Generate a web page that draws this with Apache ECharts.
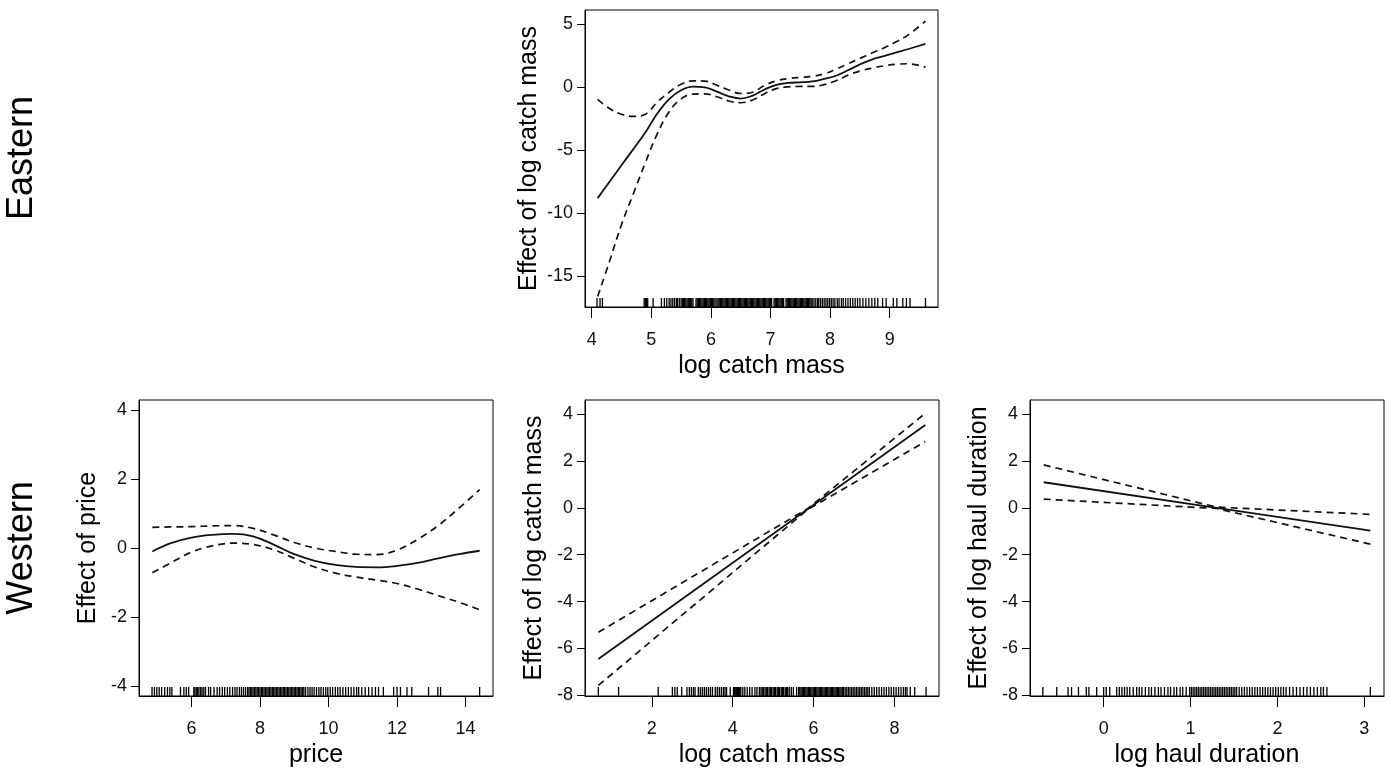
<!DOCTYPE html>
<html><head><meta charset="utf-8">
<script src="https://cdn.jsdelivr.net/npm/echarts@6/dist/echarts.min.js"></script>
<style>html,body{margin:0;padding:0;background:#fff}#c{width:1390px;height:770px}</style>
</head><body><div id="c"></div>
<script>
const FONT = '"Liberation Sans", Arial, Helvetica, sans-serif';

// ---- Eastern: log catch mass ----
const eastX = [4.1, 4.3, 4.5, 4.7, 4.9, 5.1, 5.3, 5.5, 5.7, 5.9, 6.1, 6.3, 6.5, 6.7, 6.9, 7.1, 7.3, 7.5, 7.7, 7.9, 8.1, 8.3, 8.5, 8.7, 8.9, 9.1, 9.3, 9.6];
const eastFit = [-8.8, -7.5, -6.2, -4.9, -3.6, -2.1, -0.95, -0.25, 0.03, -0.02, -0.36, -0.73, -0.91, -0.67, -0.19, 0.18, 0.33, 0.38, 0.45, 0.65, 0.9, 1.33, 1.8, 2.18, 2.45, 2.73, 3.0, 3.43];
const eastUpper = [-0.98, -1.7, -2.15, -2.32, -2.15, -1.2, -0.4, 0.22, 0.5, 0.48, 0.15, -0.23, -0.51, -0.41, 0.13, 0.5, 0.68, 0.77, 0.85, 1.05, 1.42, 1.85, 2.27, 2.7, 3.1, 3.57, 4.1, 5.22];
const eastLower = [-16.6, -13.8, -10.9, -8.44, -6.0, -3.7, -1.95, -0.93, -0.56, -0.54, -0.77, -1.1, -1.24, -1.02, -0.52, -0.12, 0.02, 0.05, 0.05, 0.2, 0.5, 0.95, 1.27, 1.5, 1.68, 1.8, 1.85, 1.58];
const eastRug = [4.09, 4.14, 4.18, 4.88, 4.9, 4.92, 4.94, 5.03, 5.17, 5.22, 5.26, 5.3, 5.33, 5.36, 5.39, 5.42, 5.44, 5.47, 5.5, 5.52, 5.54, 5.56, 5.58, 5.6, 5.62, 5.64, 5.66, 5.68, 5.7, 5.75, 5.77, 5.79, 5.81, 5.83, 5.85, 5.87, 5.89, 5.91, 5.93, 5.95, 5.97, 5.99, 6.01, 6.03, 6.05, 6.07, 6.1, 6.12, 6.14, 6.16, 6.18, 6.2, 6.22, 6.24, 6.26, 6.28, 6.3, 6.32, 6.34, 6.36, 6.38, 6.4, 6.42, 6.44, 6.46, 6.48, 6.5, 6.52, 6.54, 6.56, 6.58, 6.6, 6.62, 6.64, 6.66, 6.68, 6.7, 6.72, 6.74, 6.76, 6.78, 6.8, 6.82, 6.84, 6.86, 6.88, 6.9, 6.92, 6.94, 6.96, 6.98, 7.0, 7.02, 7.06, 7.08, 7.1, 7.12, 7.14, 7.16, 7.18, 7.2, 7.22, 7.26, 7.28, 7.3, 7.32, 7.34, 7.36, 7.38, 7.4, 7.42, 7.44, 7.46, 7.48, 7.5, 7.52, 7.54, 7.56, 7.58, 7.6, 7.62, 7.64, 7.66, 7.68, 7.7, 7.73, 7.76, 7.79, 7.81, 7.84, 7.87, 7.9, 7.93, 7.96, 7.99, 8.02, 8.05, 8.08, 8.12, 8.15, 8.19, 8.22, 8.26, 8.3, 8.34, 8.38, 8.42, 8.46, 8.5, 8.55, 8.6, 8.65, 8.7, 8.75, 8.8, 8.88, 8.94, 9.06, 9.12, 9.22, 9.28, 9.34, 9.6];
const eastXTicks = [4, 5, 6, 7, 8, 9];
const eastYTicks = [-15, -10, -5, 0, 5];

// ---- Western: price ----
const priceX = [4.86, 5.4, 6.0, 6.6, 7.2, 7.8, 8.4, 9.0, 9.6, 10.2, 10.8, 11.4, 12.0, 12.6, 13.2, 13.8, 14.41];
const priceFit = [-0.1, 0.14, 0.3, 0.38, 0.41, 0.34, 0.1, -0.18, -0.37, -0.49, -0.55, -0.56, -0.52, -0.43, -0.3, -0.18, -0.08];
const priceUpper = [0.6, 0.61, 0.62, 0.64, 0.65, 0.57, 0.38, 0.16, 0.0, -0.1, -0.18, -0.19, -0.06, 0.25, 0.65, 1.15, 1.69];
const priceLower = [-0.72, -0.43, -0.12, 0.06, 0.14, 0.1, -0.05, -0.3, -0.55, -0.73, -0.84, -0.93, -1.03, -1.19, -1.38, -1.57, -1.79];
const priceRug = [4.85, 4.92, 4.99, 5.06, 5.13, 5.22, 5.3, 5.37, 5.43, 5.68, 5.78, 5.85, 5.92, 6.07, 6.1, 6.14, 6.18, 6.22, 6.27, 6.31, 6.36, 6.41, 6.5, 6.56, 6.66, 6.75, 6.82, 6.9, 6.97, 7.05, 7.12, 7.2, 7.27, 7.33, 7.4, 7.46, 7.52, 7.58, 7.64, 7.68, 7.72, 7.76, 7.8, 7.84, 7.88, 7.92, 7.96, 8.0, 8.04, 8.08, 8.12, 8.16, 8.2, 8.24, 8.28, 8.32, 8.36, 8.4, 8.44, 8.48, 8.52, 8.56, 8.6, 8.64, 8.68, 8.72, 8.76, 8.8, 8.84, 8.88, 8.92, 8.96, 9.0, 9.04, 9.08, 9.12, 9.16, 9.2, 9.24, 9.28, 9.33, 9.4, 9.46, 9.52, 9.58, 9.65, 9.72, 9.78, 9.85, 9.92, 9.98, 10.05, 10.12, 10.2, 10.27, 10.34, 10.42, 10.5, 10.58, 10.66, 10.74, 10.82, 10.88, 10.97, 11.07, 11.17, 11.27, 11.37, 11.46, 11.6, 11.9, 12.0, 12.1, 12.29, 12.43, 12.92, 13.19, 13.27, 14.41];
const priceXTicks = [6, 8, 10, 12, 14];
const priceYTicks = [-4, -2, 0, 2, 4];

// ---- Western: log catch mass ----
const wCatchX = [0.68, 5.85, 8.76];
const wCatchFit = [-6.45, -0.06, 3.53];
const wCatchUpper = [-5.31, -0.04, 4.03];
const wCatchLower = [-7.58, -0.08, 2.82];
const wCatchRug = [0.68, 1.18, 2.16, 2.51, 2.57, 2.63, 2.74, 2.87, 2.93, 2.98, 3.03, 3.07, 3.15, 3.2, 3.25, 3.3, 3.35, 3.4, 3.45, 3.5, 3.57, 3.62, 3.67, 3.72, 3.77, 3.81, 3.85, 3.94, 4.02, 4.04, 4.06, 4.08, 4.1, 4.12, 4.14, 4.16, 4.18, 4.2, 4.25, 4.3, 4.36, 4.42, 4.48, 4.55, 4.6, 4.66, 4.7, 4.73, 4.76, 4.8, 4.83, 4.86, 4.9, 4.93, 4.96, 5.0, 5.03, 5.06, 5.1, 5.13, 5.16, 5.2, 5.23, 5.26, 5.3, 5.33, 5.36, 5.4, 5.45, 5.5, 5.58, 5.63, 5.66, 5.69, 5.72, 5.75, 5.78, 5.81, 5.84, 5.87, 5.9, 5.93, 5.96, 5.99, 6.02, 6.05, 6.08, 6.11, 6.14, 6.17, 6.2, 6.23, 6.26, 6.29, 6.32, 6.35, 6.38, 6.41, 6.44, 6.47, 6.5, 6.53, 6.56, 6.59, 6.62, 6.65, 6.68, 6.71, 6.74, 6.78, 6.82, 6.86, 6.9, 6.94, 6.98, 7.02, 7.06, 7.1, 7.14, 7.18, 7.22, 7.26, 7.3, 7.34, 7.38, 7.44, 7.5, 7.56, 7.62, 7.68, 7.74, 7.8, 7.86, 7.92, 7.98, 8.04, 8.1, 8.16, 8.22, 8.27, 8.31, 8.39, 8.5, 8.78];
const wCatchXTicks = [2, 4, 6, 8];
const westYTicks = [-8, -6, -4, -2, 0, 2, 4];

// ---- Western: log haul duration ----
const haulX = [-0.69, 1.3, 3.07];
const haulFit = [1.09, 0.0, -0.97];
const haulUpper = [1.83, 0.03, -0.28];
const haulLower = [0.37, -0.03, -1.55];
const haulRug = [-0.7, -0.54, -0.41, -0.37, -0.29, -0.2, -0.17, -0.08, 0.0, 0.03, 0.07, 0.15, 0.18, 0.21, 0.24, 0.27, 0.3, 0.34, 0.38, 0.41, 0.44, 0.48, 0.52, 0.55, 0.59, 0.63, 0.66, 0.7, 0.74, 0.77, 0.81, 0.84, 0.88, 0.91, 0.95, 0.99, 1.01, 1.03, 1.05, 1.07, 1.09, 1.11, 1.13, 1.15, 1.17, 1.19, 1.21, 1.23, 1.25, 1.27, 1.29, 1.31, 1.33, 1.35, 1.37, 1.39, 1.41, 1.43, 1.45, 1.47, 1.49, 1.51, 1.53, 1.56, 1.59, 1.62, 1.65, 1.68, 1.71, 1.74, 1.77, 1.8, 1.83, 1.86, 1.89, 1.92, 1.95, 1.98, 2.01, 2.04, 2.07, 2.1, 2.14, 2.18, 2.22, 2.26, 2.3, 2.34, 2.38, 2.42, 2.46, 2.5, 2.53, 2.57, 3.07];
const haulXTicks = [0, 1, 2, 3];

// ---- panel definitions ----
const panels = [
  {grid: {left: 585, top: 10, width: 353, height: 297}, xr: [3.888, 9.81], yr: [-17.43, 6.11],
   xt: eastXTicks, yt: eastYTicks, xname: 'log catch mass', yname: 'Effect of log catch mass', yGap: 43,
   x: eastX, fit: eastFit, up: eastUpper, lo: eastLower, rug: eastRug, smooth: 0.4},
  {grid: {left: 139, top: 400, width: 354, height: 296}, xr: [4.47, 14.8], yr: [-4.29, 4.29],
   xt: priceXTicks, yt: priceYTicks, xname: 'price', yname: 'Effect of price', yGap: 38,
   x: priceX, fit: priceFit, up: priceUpper, lo: priceLower, rug: priceRug, smooth: 0.4},
  {grid: {left: 585, top: 400, width: 354, height: 296}, xr: [0.35, 9.1], yr: [-8.03, 4.6],
   xt: wCatchXTicks, yt: westYTicks, xname: 'log catch mass', yname: 'Effect of log catch mass', yGap: 38,
   x: wCatchX, fit: wCatchFit, up: wCatchUpper, lo: wCatchLower, rug: wCatchRug, smooth: false},
  {grid: {left: 1030, top: 400, width: 354, height: 296}, xr: [-0.848, 3.227], yr: [-8.03, 4.6],
   xt: haulXTicks, yt: westYTicks, xname: 'log haul duration', yname: 'Effect of log haul duration', yGap: 38,
   x: haulX, fit: haulFit, up: haulUpper, lo: haulLower, rug: haulRug, smooth: false}
];

const pairs = (xs, ys) => xs.map((x, i) => [x, ys[i]]);
const grid = [], xAxis = [], yAxis = [], series = [];
const nameStyle = {fontSize: 25, color: '#000', fontFamily: FONT};
const labStyle = {fontSize: 18, color: '#111', fontFamily: FONT};

panels.forEach((p, i) => {
  grid.push(Object.assign({show: true, borderColor: '#000', borderWidth: 1, backgroundColor: 'transparent'}, p.grid));
  xAxis.push({type: 'value', gridIndex: i, min: p.xr[0], max: p.xr[1], name: p.xname, nameLocation: 'middle', nameGap: 47,
    nameTextStyle: nameStyle,
    axisLine: {show: true, onZero: false, lineStyle: {color: '#000', width: 1}},
    axisTick: {show: true, length: 11, customValues: p.xt, lineStyle: {color: '#000', width: 1}},
    axisLabel: Object.assign({customValues: p.xt, margin: 24, formatter: v => String(v)}, labStyle),
    splitLine: {show: false}});
  yAxis.push({type: 'value', gridIndex: i, min: p.yr[0], max: p.yr[1], name: p.yname, nameLocation: 'middle', nameGap: p.yGap,
    nameRotate: 90, nameTextStyle: nameStyle,
    axisLine: {show: true, onZero: false, lineStyle: {color: '#000', width: 1}},
    axisTick: {show: true, length: 8, customValues: p.yt, lineStyle: {color: '#000', width: 1}},
    axisLabel: Object.assign({customValues: p.yt, margin: 12, formatter: v => String(v)}, labStyle),
    splitLine: {show: false}});
  const common = {type: 'line', xAxisIndex: i, yAxisIndex: i, showSymbol: false, symbol: 'none', silent: true,
    smooth: p.smooth};
  series.push(Object.assign({}, common, {data: pairs(p.x, p.fit), lineStyle: {color: '#111', width: 1.8, type: 'solid'}}));
  series.push(Object.assign({}, common, {data: pairs(p.x, p.up), lineStyle: {color: '#111', width: 1.7, type: [7, 5]}}));
  series.push(Object.assign({}, common, {data: pairs(p.x, p.lo), lineStyle: {color: '#111', width: 1.7, type: [7, 5]}}));
  series.push({type: 'scatter', xAxisIndex: i, yAxisIndex: i, silent: true, clip: false,
    data: p.rug.map(v => [v, p.yr[0]]), symbol: 'rect', symbolSize: [1.3, 9], symbolOffset: [0, -4.5],
    itemStyle: {color: '#000', opacity: 1}});
});

const chart = echarts.init(document.getElementById('c'), null, {renderer: 'canvas'});
chart.setOption({
  animation: false,
  backgroundColor: '#fff',
  grid, xAxis, yAxis, series,
  graphic: [
    {type: 'text', x: 22, y: 158, rotation: Math.PI / 2,
     style: {text: 'Eastern', fontSize: 36, fontFamily: FONT, fill: '#000', align: 'center', verticalAlign: 'middle', textAlign: 'center', textVerticalAlign: 'middle'}},
    {type: 'text', x: 22, y: 548, rotation: Math.PI / 2,
     style: {text: 'Western', fontSize: 36, fontFamily: FONT, fill: '#000', align: 'center', verticalAlign: 'middle', textAlign: 'center', textVerticalAlign: 'middle'}}
  ]
});
</script></body></html>
